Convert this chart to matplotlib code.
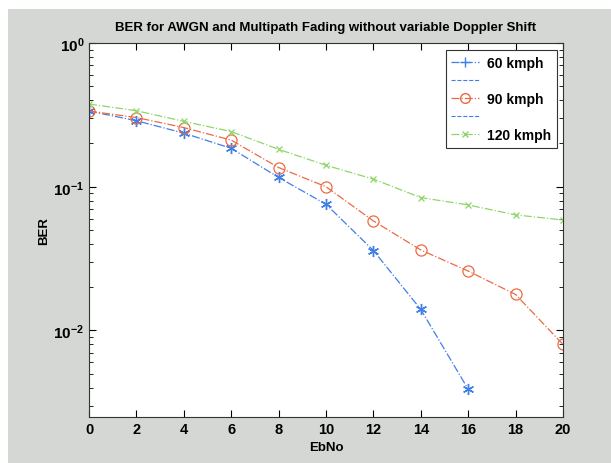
import numpy as np
import matplotlib
matplotlib.use('Agg')
import matplotlib.pyplot as plt
from matplotlib.lines import Line2D
from matplotlib.patches import Rectangle

plt.rcParams['font.family'] = ['Liberation Sans', 'DejaVu Sans']
plt.rcParams['font.weight'] = 'bold'
plt.rcParams['mathtext.fontset'] = 'custom'
plt.rcParams['mathtext.rm'] = 'Liberation Sans:bold'
plt.rcParams['mathtext.bf'] = 'Liberation Sans:bold'
plt.rcParams['mathtext.default'] = 'bf'

ebno = [0, 2, 4, 6, 8, 10, 12, 14, 16, 18, 20]
ber60 = [0.336, 0.288, 0.236, 0.185, 0.116, 0.0755, 0.036, 0.014, 0.0039]
ber90 = [0.336, 0.303, 0.258, 0.211, 0.136, 0.100, 0.0578, 0.0363, 0.0259, 0.0178, 0.008]
ber120 = [0.376, 0.338, 0.285, 0.242, 0.182, 0.141, 0.113, 0.084, 0.0747, 0.0637, 0.0587]
labels = ['60 kmph', '', '90 kmph', '', '120 kmph']

c60 = '#3f7fe6'
c90 = '#ec6a43'
c120 = '#8fd66a'

fig = plt.figure(figsize=(6.11, 4.64), dpi=100)
fig.patch.set_facecolor('white')
bg = Rectangle((8 / 611, 0), 1 - 8 / 611, 1 - 10 / 464,
               transform=fig.transFigure, facecolor='#d5d7d5',
               edgecolor='none', zorder=-10)
fig.add_artist(bg)

ax = fig.add_axes([89 / 611, 1 - 418 / 464, (563 - 89) / 611, (418 - 44) / 464])
ax.set_zorder(1)
ax.set_facecolor('white')

ax.semilogy(ebno[:len(ber60)], ber60, linestyle='-.', color=c60, marker=(6, 2, 0),
            markersize=8, lw=0.9, mew=1.0)
ax.semilogy(ebno, ber90, linestyle='-.', color=c90, marker='o', markersize=8,
            mfc='none', lw=0.9, mew=0.9)
ax.semilogy(ebno, ber120, linestyle='-.', color=c120, marker='x', markersize=5,
            lw=0.9, mew=0.9)

ax.set_xlim(0, 20)
ax.set_ylim(0.0025, 1)
ax.set_xticks(ebno)
ax.set_xticklabels([str(v) for v in ebno], fontsize=10.5, fontweight='bold')
ax.set_yticks([1e-2, 1e-1, 1])
ax.set_yticklabels([r'$10^{-2}$', r'$10^{-1}$', r'$10^{0}$'], fontsize=11)
ax.tick_params(which='both', direction='in', top=True, right=True)
ax.tick_params(which='major', length=5, width=0.8)
ax.tick_params(which='minor', length=3, width=0.6)
for s in ax.spines.values():
    s.set_linewidth(0.8)
    s.set_color('#333333')

ax.set_xlabel('EbNo', fontsize=9.5, fontweight='bold', labelpad=4)
ax.set_ylabel('BER', fontsize=9.5, fontweight='bold', labelpad=2)
ax.set_title('BER for AWGN and Multipath Fading without variable Doppler Shift',
             fontsize=9.5, fontweight='bold', pad=9)

handles = [
    Line2D([], [], color=c60, linestyle='-.', marker='+', markersize=7, lw=0.9),
    Line2D([], [], color=c60, linestyle='--', lw=0.8),
    Line2D([], [], color=c90, linestyle='-.', marker='o', mfc='none', markersize=7, lw=0.9),
    Line2D([], [], color=c60, linestyle='--', lw=0.8),
    Line2D([], [], color=c120, linestyle='-.', marker='x', markersize=4, lw=0.9),
]
leg = ax.legend(handles, labels, loc='upper right', fontsize=10,
                bbox_to_anchor=(1 - 6 / 474, 1 - 7 / 374),
                fancybox=False, edgecolor='#333333', framealpha=1,
                borderaxespad=0, handlelength=2.0, handletextpad=0.6,
                labelspacing=0.3, borderpad=0.4)
leg.get_frame().set_linewidth(0.8)

fig.savefig('out.png', dpi=100, facecolor=fig.get_facecolor())
